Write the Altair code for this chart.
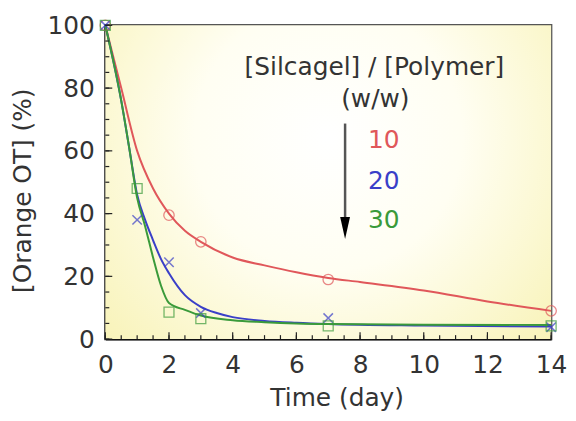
import altair as alt
import pandas as pd

W, H = 449, 316

# measured points
red_t = [0, 2, 3, 7, 14]
red_v = [100, 39.5, 31, 19, 9]
blue_t = [0, 1, 2, 3, 7, 14]
blue_v = [100, 38, 24.5, 8.3, 6.7, 3.8]
green_t = [0, 1, 2, 3, 7, 14]
green_v = [100, 48, 8.6, 6.5, 4.2, 4.2]

# fitted curves
red_ct = [0, 0.5, 1, 1.5, 2, 2.5, 3, 4, 5, 6, 7, 8, 10, 12, 14]
red_cv = [100, 80, 60, 48, 40, 34.5, 31, 26, 23.5, 21.3, 19.5, 18.2, 15.5, 12, 9]
blue_ct = [0, 0.5, 0.75, 1, 1.25, 1.5, 1.75, 2, 2.5, 3, 3.5, 4, 5, 6, 7, 10, 14]
blue_cv = [100, 76, 61, 46, 38, 31.5, 25.5, 21, 14, 10.3, 8.3, 7, 5.8, 5.2, 4.8, 4.3, 4]
green_ct = [0, 0.5, 0.75, 1, 1.25, 1.5, 1.75, 2, 2.5, 3, 4, 5, 6, 7, 10, 14]
green_cv = [100, 76, 61, 45, 36, 26, 17, 11.5, 9.3, 7.5, 6, 5.4, 5, 4.8, 4.6, 4.5]

x_major = [0, 2, 4, 6, 8, 10, 12, 14]
x_minor = [v / 2 for v in range(0, 29)]
y_major = [0, 20, 40, 60, 80, 100]
y_minor = [v * 5 for v in range(0, 21)]

RED, BLUE, GREEN = "#e0575a", "#3a3fc8", "#3a9a3a"
FONT = "DejaVu Sans"

def pts(t, v):
    return pd.DataFrame({"t": t, "v": v})

xs = alt.Scale(domain=[0, 14], nice=False, padding=0, zero=False)
ys = alt.Scale(domain=[0, 100], nice=False, padding=0)
X = alt.X("t:Q", scale=xs, title="Time (day)",
          axis=alt.Axis(values=x_major, format="d", labelFlush=False, titleX=233))
Y = alt.Y("v:Q", scale=ys, title="[Orange OT] (%)",
          axis=alt.Axis(values=y_major, format="d", labelFlush=False, titleY=166))

bg = alt.Chart(pd.DataFrame({"a": [0]})).mark_rect(
    color=alt.RadialGradient(
        gradient="radial", x1=0.5, y1=0.4, r1=0.0, x2=0.5, y2=0.4, r2=0.75,
        stops=[alt.GradientStop(offset=0, color="#ffffff"),
               alt.GradientStop(offset=0.4, color="#fffef2"),
               alt.GradientStop(offset=1, color="#f7f1ad")])
).encode(x=alt.value(0), x2=alt.value(W), y=alt.value(0), y2=alt.value(H))

def curve(t, v, c):
    return alt.Chart(pts(t, v)).mark_line(color=c, strokeWidth=2, interpolate="monotone").encode(x=X, y=Y)

xcross = "M-1,-1L1,1M-1,1L1,-1"
red_p = alt.Chart(pts(red_t, red_v)).mark_point(shape="circle", filled=False, color=RED, size=110, strokeWidth=1.3).encode(x=X, y=Y)
blue_p = alt.Chart(pts(blue_t, blue_v)).mark_point(shape=xcross, filled=False, color=BLUE, size=90, strokeWidth=1.5).encode(x=X, y=Y)
green_p = alt.Chart(pts(green_t, green_v)).mark_point(shape="square", filled=False, color=GREEN, size=100, strokeWidth=1.3).encode(x=X, y=Y)

def xt(vals, ln):
    return alt.Chart(pd.DataFrame({"t": vals})).mark_rule(color="#222", strokeWidth=1.2).encode(
        x=alt.X("t:Q", scale=xs), y=alt.value(H), y2=alt.value(H - ln))

def yt(vals, ln):
    return alt.Chart(pd.DataFrame({"v": vals})).mark_rule(color="#222", strokeWidth=1.2).encode(
        y=alt.Y("v:Q", scale=ys), x=alt.value(0), x2=alt.value(ln))

# annotation
ann_t = [8.45, 8.48]
ann_v = [86.7, 76.6]
ann_s = ["[Silcagel] / [Polymer]", "(w/w)"]
ann = alt.Chart(pd.DataFrame({"t": ann_t, "v": ann_v, "s": ann_s})).mark_text(
    font=FONT, fontSize=25, color="#333", align="center", baseline="middle").encode(x=X, y=Y, text="s:N")

lab_t = [8.25, 8.25, 8.25]
lab_v = [63.3, 50.3, 38.0]
lab_s = ["10", "20", "30"]
lab_c = [RED, BLUE, GREEN]
labs = alt.Chart(pd.DataFrame({"t": lab_t, "v": lab_v, "s": lab_s, "c": lab_c})).mark_text(
    font=FONT, fontSize=25, align="left", baseline="middle").encode(
    x=X, y=Y, text="s:N", color=alt.Color("c:N", scale=None))

arrow_line = alt.Chart(pd.DataFrame({"t": [7.53, 7.53], "v": [68.7, 37.5]})).mark_line(
    color="#555", strokeWidth=2.5).encode(x=X, y=Y)
arrow_head = alt.Chart(pd.DataFrame({"t": [7.53], "v": [35.4]})).mark_point(
    shape="M-0.45,-1L0.45,-1L0,1Z", filled=True, color="#000", size=484, opacity=1).encode(x=X, y=Y)

chart = alt.layer(
    bg,
    curve(red_ct, red_cv, RED), curve(blue_ct, blue_cv, BLUE), curve(green_ct, green_cv, GREEN),
    red_p, blue_p, green_p,
    xt(x_minor, 4), xt(x_major, 7), yt(y_minor, 4), yt(y_major, 7),
    ann, labs, arrow_line, arrow_head,
).properties(
    width=W, height=H,
    autosize=alt.AutoSizeParams(type="none"),
    padding={"left": 98, "top": 16, "right": 17, "bottom": 80},
).configure_view(
    stroke="#555", strokeWidth=2.5
).configure_axis(
    labelFont=FONT, titleFont=FONT, labelFontSize=25, titleFontSize=25,
    labelColor="#333", titleColor="#333", titleFontWeight="normal",
    domainColor="#111", domainWidth=2, ticks=False, grid=False,
).configure_axisX(
    labelPadding=14, titlePadding=8,
).configure_axisY(
    labelPadding=11, titlePadding=12,
)

chart.save("out.html", embed_options={"renderer": "svg", "actions": False})
